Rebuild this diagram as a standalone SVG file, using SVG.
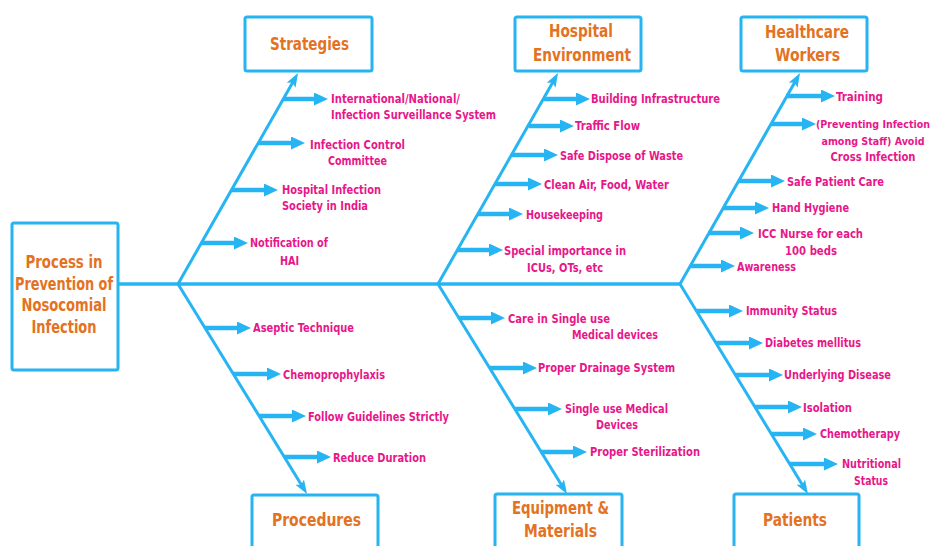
<svg xmlns="http://www.w3.org/2000/svg" width="936" height="546" viewBox="0 0 936 546">
<defs>
<marker id="sub" markerUnits="userSpaceOnUse" markerWidth="16" markerHeight="14" refX="4" refY="6.5" orient="auto">
<path d="M0,0 L14,6.5 L0,13 z" fill="#27B4F2"/>
</marker>
<marker id="main" markerUnits="userSpaceOnUse" markerWidth="16" markerHeight="12" refX="4" refY="5" orient="auto">
<path d="M0,0 L14,5 L0,10 L3,5 z" fill="#27B4F2"/>
</marker>
</defs>
<style>
.box{fill:#fff;stroke:#27B4F2;stroke-width:3}
.title{font-family:"Liberation Sans Narrow","DejaVu Sans Condensed","Liberation Sans",sans-serif;font-weight:bold;font-size:18px;fill:#E37222;text-anchor:middle}
.lbl{font-family:"Liberation Sans Narrow","DejaVu Sans Condensed","Liberation Sans",sans-serif;font-weight:bold;font-size:12px;fill:#E8168A}
.sm{font-size:11px}
.mid{text-anchor:middle}
.spine{stroke:#27B4F2;stroke-width:3.5;fill:none}
.br{stroke:#27B4F2;stroke-width:3;fill:none;marker-end:url(#main)}
.sa{stroke:#27B4F2;stroke-width:4.5;fill:none;marker-end:url(#sub)}
</style>
<rect width="936" height="546" fill="#fff"/>

<g id="connectors">
<line class="spine" x1="118" y1="284" x2="680" y2="284"/>
<line class="br" x1="178" y1="284" x2="293.1" y2="81.7"/>
<line class="br" x1="438" y1="284" x2="553.1" y2="81.7"/>
<line class="br" x1="680" y1="284" x2="795.1" y2="81.7"/>
<line class="br" x1="178" y1="284" x2="301.8" y2="485.5"/>
<line class="br" x1="438" y1="284" x2="561.8" y2="485.5"/>
<line class="br" x1="680" y1="284" x2="802.8" y2="485.5"/>
<!-- Strategies -->
<line class="sa" x1="283" y1="99" x2="318" y2="99"/>
<line class="sa" x1="258" y1="143" x2="295" y2="143"/>
<line class="sa" x1="231" y1="190" x2="268" y2="190"/>
<line class="sa" x1="201" y1="243" x2="238" y2="243"/>
<!-- Hospital Environment -->
<line class="sa" x1="544" y1="99" x2="580" y2="99"/>
<line class="sa" x1="529" y1="126" x2="564" y2="126"/>
<line class="sa" x1="512" y1="155" x2="548" y2="155"/>
<line class="sa" x1="495" y1="184" x2="532" y2="184"/>
<line class="sa" x1="478" y1="214" x2="513" y2="214"/>
<line class="sa" x1="457" y1="250" x2="493" y2="250"/>
<!-- Healthcare Workers -->
<line class="sa" x1="786" y1="96" x2="825" y2="96"/>
<line class="sa" x1="771" y1="124" x2="806" y2="124"/>
<line class="sa" x1="738" y1="181" x2="775" y2="181"/>
<line class="sa" x1="723" y1="208" x2="759" y2="208"/>
<line class="sa" x1="708" y1="233" x2="744" y2="233"/>
<line class="sa" x1="690" y1="266" x2="725" y2="266"/>
<!-- Procedures -->
<line class="sa" x1="205" y1="328" x2="241" y2="328"/>
<line class="sa" x1="233" y1="374" x2="271" y2="374"/>
<line class="sa" x1="259" y1="416" x2="296" y2="416"/>
<line class="sa" x1="284" y1="457" x2="321" y2="457"/>
<!-- Equipment -->
<line class="sa" x1="459" y1="318" x2="495" y2="318"/>
<line class="sa" x1="490" y1="368" x2="527" y2="368"/>
<line class="sa" x1="515" y1="409" x2="552" y2="409"/>
<line class="sa" x1="541" y1="452" x2="577" y2="452"/>
<!-- Patients -->
<line class="sa" x1="697" y1="311" x2="733" y2="311"/>
<line class="sa" x1="716" y1="343" x2="753" y2="343"/>
<line class="sa" x1="736" y1="375" x2="773" y2="375"/>
<line class="sa" x1="755" y1="407" x2="792" y2="407"/>
<line class="sa" x1="771" y1="434" x2="807" y2="434"/>
<line class="sa" x1="790" y1="464" x2="828" y2="464"/>
</g>

<g id="main-box">
<rect class="box" x="12" y="223" width="106" height="147" rx="2"/>
<text class="title" x="64" y="268" textLength="77" lengthAdjust="spacingAndGlyphs">Process in</text>
<text class="title" x="64" y="290" textLength="98" lengthAdjust="spacingAndGlyphs">Prevention of</text>
<text class="title" x="64" y="311" textLength="85" lengthAdjust="spacingAndGlyphs">Nosocomial</text>
<text class="title" x="64" y="333" textLength="65" lengthAdjust="spacingAndGlyphs">Infection</text>
</g>

<g id="strategies">
<rect class="box" x="245" y="17" width="127" height="54" rx="2"/>
<text class="title" x="309.5" y="50" textLength="79" lengthAdjust="spacingAndGlyphs">Strategies</text>
<text class="lbl" x="331" y="103" textLength="129" lengthAdjust="spacingAndGlyphs">International/National/</text>
<text class="lbl" x="331" y="119" textLength="165" lengthAdjust="spacingAndGlyphs">Infection Surveillance System</text>
<text class="lbl mid" x="357.5" y="149" textLength="95" lengthAdjust="spacingAndGlyphs">Infection Control</text>
<text class="lbl mid" x="357.5" y="165" textLength="59" lengthAdjust="spacingAndGlyphs">Committee</text>
<text class="lbl" x="282" y="194" textLength="99" lengthAdjust="spacingAndGlyphs">Hospital Infection</text>
<text class="lbl" x="282" y="210" textLength="86" lengthAdjust="spacingAndGlyphs">Society in India</text>
<text class="lbl mid" x="289" y="247" textLength="78" lengthAdjust="spacingAndGlyphs">Notification of</text>
<text class="lbl mid" x="289.5" y="265" textLength="19" lengthAdjust="spacingAndGlyphs">HAI</text>
</g>

<g id="hospital-environment">
<rect class="box" x="515" y="17" width="126" height="54" rx="2"/>
<text class="title" x="581" y="37" textLength="64" lengthAdjust="spacingAndGlyphs">Hospital</text>
<text class="title" x="582" y="61" textLength="98" lengthAdjust="spacingAndGlyphs">Environment</text>
<text class="lbl" x="591" y="103" textLength="129" lengthAdjust="spacingAndGlyphs">Building Infrastructure</text>
<text class="lbl" x="575" y="130" textLength="65" lengthAdjust="spacingAndGlyphs">Traffic Flow</text>
<text class="lbl" x="560" y="160" textLength="123" lengthAdjust="spacingAndGlyphs">Safe Dispose of Waste</text>
<text class="lbl" x="544" y="189" textLength="125" lengthAdjust="spacingAndGlyphs">Clean Air, Food, Water</text>
<text class="lbl" x="526" y="219" textLength="77" lengthAdjust="spacingAndGlyphs">Housekeeping</text>
<text class="lbl mid" x="565" y="255" textLength="122" lengthAdjust="spacingAndGlyphs">Special importance in</text>
<text class="lbl mid" x="565" y="272" textLength="76" lengthAdjust="spacingAndGlyphs">ICUs, OTs, etc</text>
</g>

<g id="healthcare-workers">
<rect class="box" x="741" y="17" width="126" height="54" rx="2"/>
<text class="title" x="807" y="38" textLength="84" lengthAdjust="spacingAndGlyphs">Healthcare</text>
<text class="title" x="807.5" y="61" textLength="65" lengthAdjust="spacingAndGlyphs">Workers</text>
<text class="lbl" x="836" y="101" textLength="47" lengthAdjust="spacingAndGlyphs">Training</text>
<text class="lbl sm mid" x="873" y="128" textLength="114" lengthAdjust="spacingAndGlyphs">(Preventing Infection</text>
<text class="lbl sm mid" x="873" y="145" textLength="103" lengthAdjust="spacingAndGlyphs">among Staff) Avoid</text>
<text class="lbl mid" x="873" y="161" textLength="85" lengthAdjust="spacingAndGlyphs">Cross Infection</text>
<text class="lbl" x="787" y="186" textLength="97" lengthAdjust="spacingAndGlyphs">Safe Patient Care</text>
<text class="lbl" x="772" y="212" textLength="77" lengthAdjust="spacingAndGlyphs">Hand Hygiene</text>
<text class="lbl mid" x="810.5" y="238" textLength="105" lengthAdjust="spacingAndGlyphs">ICC Nurse for each</text>
<text class="lbl mid" x="811" y="255" textLength="52" lengthAdjust="spacingAndGlyphs">100 beds</text>
<text class="lbl" x="737" y="271" textLength="59" lengthAdjust="spacingAndGlyphs">Awareness</text>
</g>

<g id="procedures">
<rect class="box" x="252" y="495" width="126" height="60" rx="2"/>
<text class="title" x="316.5" y="526" textLength="89" lengthAdjust="spacingAndGlyphs">Procedures</text>
<text class="lbl" x="253" y="332" textLength="101" lengthAdjust="spacingAndGlyphs">Aseptic Technique</text>
<text class="lbl" x="283" y="379" textLength="102" lengthAdjust="spacingAndGlyphs">Chemoprophylaxis</text>
<text class="lbl" x="308" y="421" textLength="141" lengthAdjust="spacingAndGlyphs">Follow Guidelines Strictly</text>
<text class="lbl" x="333" y="462" textLength="93" lengthAdjust="spacingAndGlyphs">Reduce Duration</text>
</g>

<g id="equipment-materials">
<rect class="box" x="495" y="494" width="127" height="60" rx="2"/>
<text class="title" x="560.5" y="514" textLength="97" lengthAdjust="spacingAndGlyphs">Equipment &amp;</text>
<text class="title" x="560.5" y="537" textLength="73" lengthAdjust="spacingAndGlyphs">Materials</text>
<text class="lbl" x="508" y="323" textLength="102" lengthAdjust="spacingAndGlyphs">Care in Single use</text>
<text class="lbl" x="572" y="339" textLength="86" lengthAdjust="spacingAndGlyphs">Medical devices</text>
<text class="lbl" x="538" y="372" textLength="137" lengthAdjust="spacingAndGlyphs">Proper Drainage System</text>
<text class="lbl mid" x="616.5" y="413" textLength="103" lengthAdjust="spacingAndGlyphs">Single use Medical</text>
<text class="lbl mid" x="617" y="429" textLength="42" lengthAdjust="spacingAndGlyphs">Devices</text>
<text class="lbl" x="590" y="456" textLength="110" lengthAdjust="spacingAndGlyphs">Proper Sterilization</text>
</g>

<g id="patients">
<rect class="box" x="734" y="494" width="125" height="60" rx="2"/>
<text class="title" x="795" y="526" textLength="64" lengthAdjust="spacingAndGlyphs">Patients</text>
<text class="lbl" x="746" y="315" textLength="91" lengthAdjust="spacingAndGlyphs">Immunity Status</text>
<text class="lbl" x="765" y="347" textLength="96" lengthAdjust="spacingAndGlyphs">Diabetes mellitus</text>
<text class="lbl" x="784" y="379" textLength="107" lengthAdjust="spacingAndGlyphs">Underlying Disease</text>
<text class="lbl" x="803" y="412" textLength="49" lengthAdjust="spacingAndGlyphs">Isolation</text>
<text class="lbl" x="820" y="438" textLength="80" lengthAdjust="spacingAndGlyphs">Chemotherapy</text>
<text class="lbl mid" x="871.5" y="468" textLength="59" lengthAdjust="spacingAndGlyphs">Nutritional</text>
<text class="lbl mid" x="871" y="485" textLength="34" lengthAdjust="spacingAndGlyphs">Status</text>
</g>
</svg>
